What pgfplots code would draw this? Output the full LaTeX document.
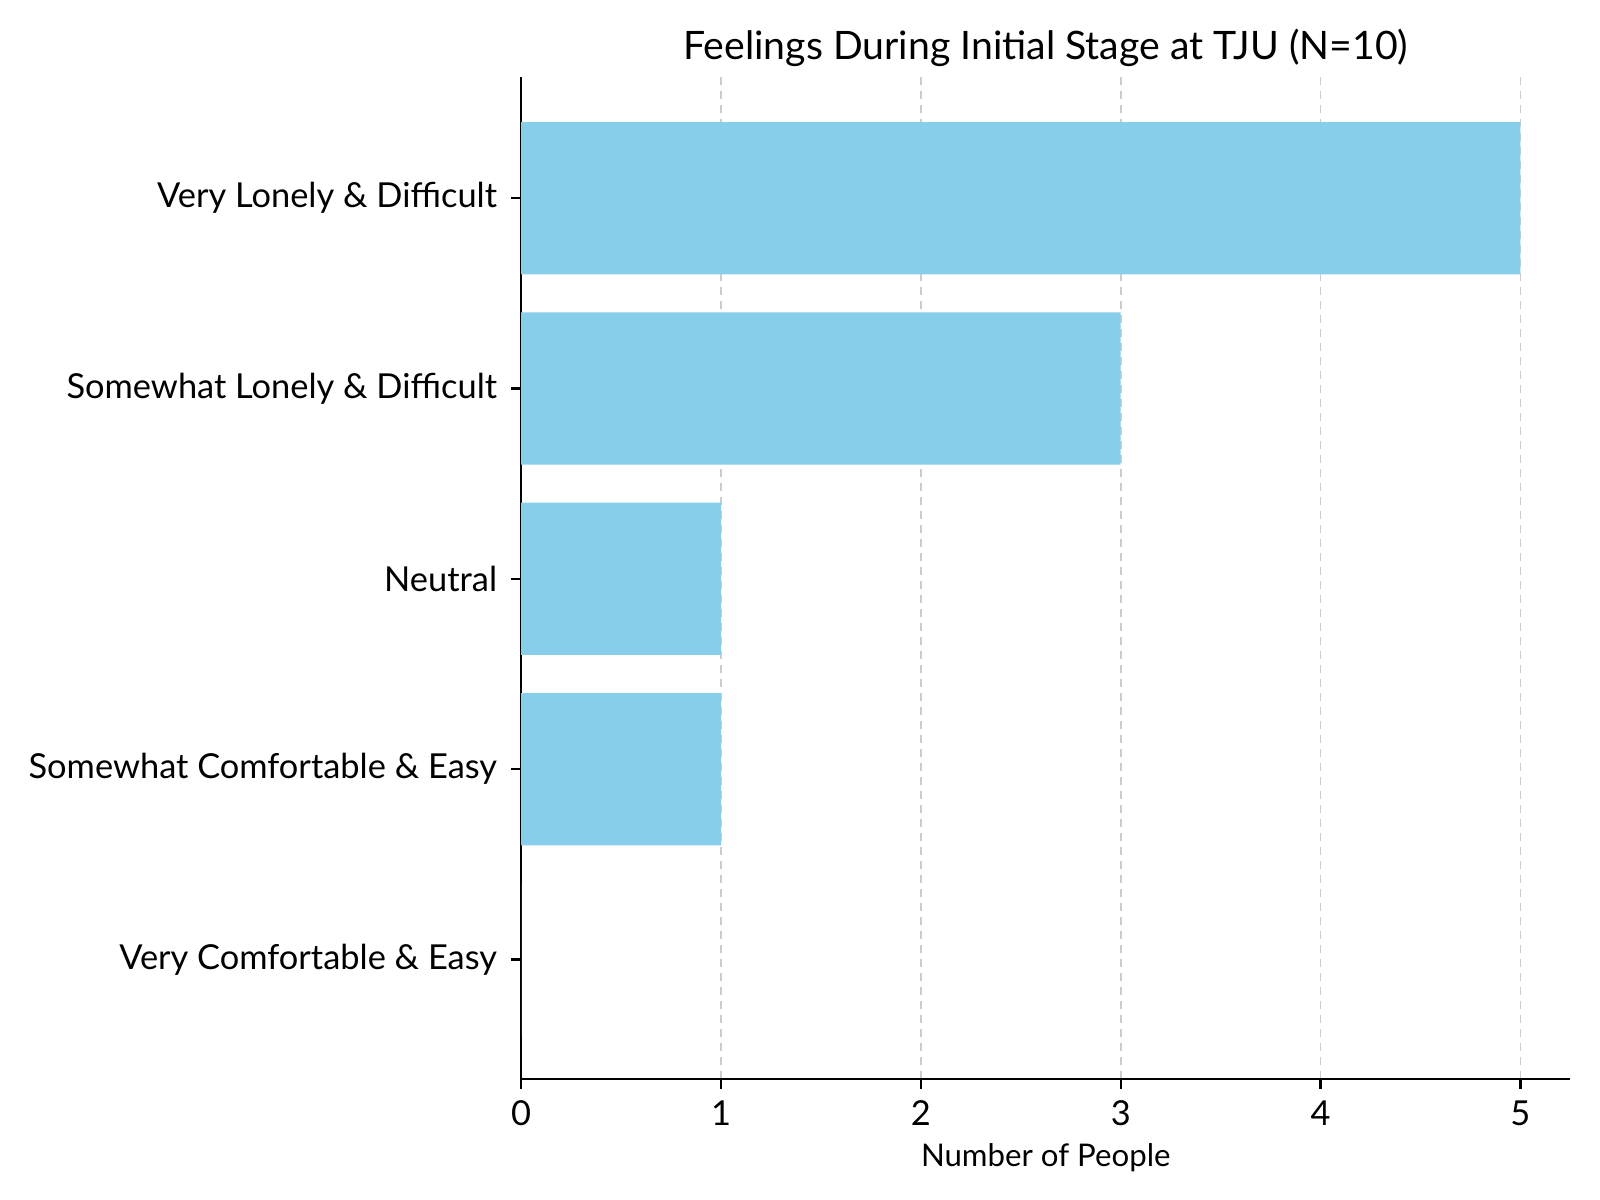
\documentclass[border=0pt]{standalone}
\usepackage{fontspec}
\setmainfont{Lato}
\usepackage{pgfplots}
\pgfplotsset{compat=1.18}
\definecolor{skyblue}{HTML}{87CEEB}
\begin{document}
\begin{tikzpicture}
\path[use as bounding box] (-130.3pt,-30.3pt) rectangle (269.7pt,269.7pt);
\begin{axis}[
  at={(0,0)}, anchor=south west,
  scale only axis, width=262.3pt, height=250.5pt,
  xbar, bar width=0.8,
  xmin=0, xmax=5.25, ymin=-0.627, ymax=4.638,
  axis x line*=bottom, axis y line*=left,
  axis line style={line width=0.6pt},
  xtick={0,1,2,3,4,5},
  ytick={0,1,2,3,4},
  yticklabels={Very Comfortable \& Easy, Somewhat Comfortable \& Easy, Neutral, Somewhat Lonely \& Difficult, Very Lonely \& Difficult},
  tick align=outside, tick style={black, line width=0.6pt},
  major tick length=2.5pt,
  xmajorgrids, grid style={gray!40, dash pattern=on 2pt off 1.5pt, line width=0.4pt},
  ymajorgrids=false,
  tick label style={font=\fontsize{8.6}{10}\selectfont},
  xticklabel style={yshift=0.5pt},
  /pgf/number format/assume math mode=true,
  xlabel={Number of People},
  xlabel style={font=\fontsize{7.8}{9}\selectfont, yshift=2.5pt},
  title={Feelings During Initial Stage at TJU (N=10)},
  title style={font=\fontsize{9.8}{11}\selectfont, yshift=-7pt},
]
\addplot[draw=none, fill=skyblue] coordinates {(0,0) (1,1) (1,2) (3,3) (5,4)};
\end{axis}
\end{tikzpicture}
\end{document}
